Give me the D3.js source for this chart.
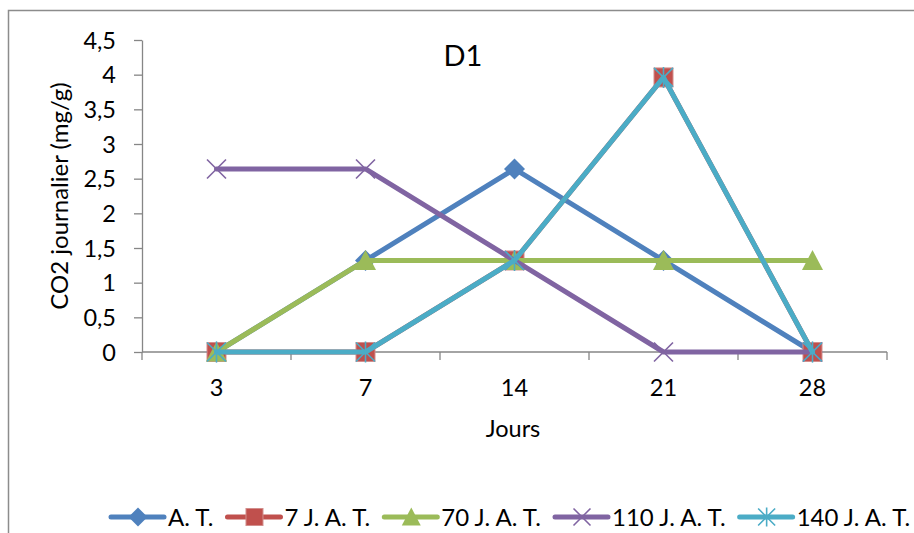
<!DOCTYPE html>
<html>
<head>
<meta charset="utf-8">
<script src="https://cdn.jsdelivr.net/npm/d3@7"></script>
<style>
  html, body { margin: 0; padding: 0; background: #fff; }
  svg { display: block; font-family: Lato, "Open Sans", sans-serif; }
</style>
</head>
<body>
<svg id="chart" width="914" height="533"></svg>
<script>
// Days of measurement
const days = ["3", "7", "14", "21", "28"];

// Daily CO2 (mg/g) for each treatment
const seriesNames = ["A. T.", "7 J. A. T.", "70 J. A. T.", "110 J. A. T.", "140 J. A. T."];
const valuesAT   = [0, 1.32, 2.64, 1.32, 0];
const values7    = [0, 0, 1.32, 3.96, 0];
const values70   = [0, 1.32, 1.32, 1.32, 1.32];
const values110  = [2.64, 2.64, 1.32, 0, 0];
const values140  = [0, 0, 1.32, 3.96, 0];

const yTicks = [0, 0.5, 1, 1.5, 2, 2.5, 3, 3.5, 4, 4.5];

const colors = ["#4F81BD", "#C0504D", "#9BBB59", "#8064A2", "#4BACC6"];
const markerTypes = ["diamond", "square", "triangle", "x", "star"];

const series = [valuesAT, values7, values70, values110, values140].map((v, i) => ({
  name: seriesNames[i], values: v, color: colors[i], marker: markerTypes[i]
}));

const FONT = "Lato, 'Open Sans', sans-serif";
const svg = d3.select("#chart");

// Outer chart frame
svg.append("rect")
  .attr("x", 8.5).attr("y", 10.5)
  .attr("width", 930).attr("height", 560)
  .attr("fill", "none").attr("stroke", "#8c8c8c").attr("stroke-width", 1.5);

const x = d3.scaleBand().domain(days).range([142, 887]);
const y = d3.scaleLinear().domain([0, 4.5]).range([352, 40]);

const fmt = d => String(d).replace(".", ",");

// Y axis
const yAxis = svg.append("g").attr("transform", "translate(142,0)")
  .call(d3.axisLeft(y).tickValues(yTicks).tickFormat(fmt).tickSize(8).tickSizeOuter(0));
yAxis.attr("font-family", FONT).attr("font-size", 23.5);
yAxis.select(".domain").attr("stroke", "#868686").attr("stroke-width", 1.3);
yAxis.selectAll(".tick line").attr("stroke", "#868686").attr("stroke-width", 1.3);
yAxis.selectAll(".tick text").attr("fill", "#000").attr("x", -26).attr("dy", "0.34em");

// X axis: category labels centred, ticks at band boundaries
const xAxisG = svg.append("g").attr("transform", "translate(0,352)")
  .attr("font-family", FONT).attr("font-size", 23.5);
xAxisG.append("line")
  .attr("x1", 142).attr("x2", 887).attr("y1", 0).attr("y2", 0)
  .attr("stroke", "#868686").attr("stroke-width", 1.3);
const boundaries = days.map(d => x(d)).concat([x(days[days.length - 1]) + x.bandwidth()]);
xAxisG.selectAll("line.tk").data(boundaries).join("line").attr("class", "tk")
  .attr("x1", d => d).attr("x2", d => d).attr("y1", 0).attr("y2", 8)
  .attr("stroke", "#868686").attr("stroke-width", 1.3);
xAxisG.selectAll("text").data(days).join("text")
  .attr("x", d => x(d) + x.bandwidth() / 2).attr("y", 44)
  .attr("text-anchor", "middle").attr("fill", "#000")
  .text(d => d);

// Titles
svg.append("text").attr("x", 463).attr("y", 66).attr("text-anchor", "middle")
  .attr("font-size", 29).attr("fill", "#000").text("D1");
svg.append("text").attr("x", 513).attr("y", 437).attr("text-anchor", "middle")
  .attr("font-size", 23.5).attr("fill", "#000").text("Jours");
svg.append("text").attr("transform", "translate(68,196) rotate(-90)")
  .attr("text-anchor", "middle").attr("font-size", 24).attr("fill", "#000")
  .text("CO2 journalier (mg/g)");

// Marker drawing
function drawMarker(g, type, color, cx, cy, s) {
  if (type === "diamond") {
    g.append("path").attr("d", `M${cx},${cy - s - 1}L${cx + s + 1},${cy}L${cx},${cy + s + 1}L${cx - s - 1},${cy}Z`)
      .attr("fill", color);
  } else if (type === "square") {
    g.append("rect").attr("x", cx - s).attr("y", cy - s).attr("width", 2 * s).attr("height", 2 * s)
      .attr("fill", color).attr("stroke", "#d28e8c").attr("stroke-width", 1);
  } else if (type === "triangle") {
    g.append("path").attr("d", `M${cx},${cy - s - 1}L${cx + s + 1},${cy + s}L${cx - s - 1},${cy + s}Z`)
      .attr("fill", color);
  } else if (type === "x") {
    g.append("path").attr("d", `M${cx - s},${cy - s}L${cx + s},${cy + s}M${cx - s},${cy + s}L${cx + s},${cy - s}`)
      .attr("stroke", color).attr("stroke-width", 1.6).attr("fill", "none");
  } else if (type === "star") {
    g.append("path").attr("d", `M${cx - s},${cy - s}L${cx + s},${cy + s}M${cx - s},${cy + s}L${cx + s},${cy - s}M${cx},${cy - s - 1}L${cx},${cy + s + 1}`)
      .attr("stroke", color).attr("stroke-width", 1.6).attr("fill", "none");
  }
}

const line = d3.line()
  .x((d, i) => x(days[i]) + x.bandwidth() / 2)
  .y(d => y(d));

const plot = svg.append("g");
series.forEach(s => {
  const g = plot.append("g");
  g.append("path").datum(s.values).attr("d", line)
    .attr("fill", "none").attr("stroke", s.color).attr("stroke-width", 5)
    .attr("stroke-linejoin", "round").attr("stroke-linecap", "round");
  s.values.forEach((v, i) => drawMarker(g, s.marker, s.color, x(days[i]) + x.bandwidth() / 2, y(v), 9.5));
});

// Legend
const legend = svg.append("g").attr("font-family", FONT).attr("font-size", 24);
let lx = 111;
const ly = 517;
series.forEach(s => {
  const g = legend.append("g");
  g.append("line").attr("x1", lx).attr("x2", lx + 53).attr("y1", ly).attr("y2", ly)
    .attr("stroke", s.color).attr("stroke-width", 5).attr("stroke-linecap", "round");
  drawMarker(g, s.marker, s.color, lx + 27, ly, 8.5);
  const t = g.append("text").attr("x", lx + 57).attr("y", ly + 9)
    .attr("fill", "#000").text(s.name);
  lx = lx + 57 + t.node().getComputedTextLength() + 14;
});
</script>
</body>
</html>
